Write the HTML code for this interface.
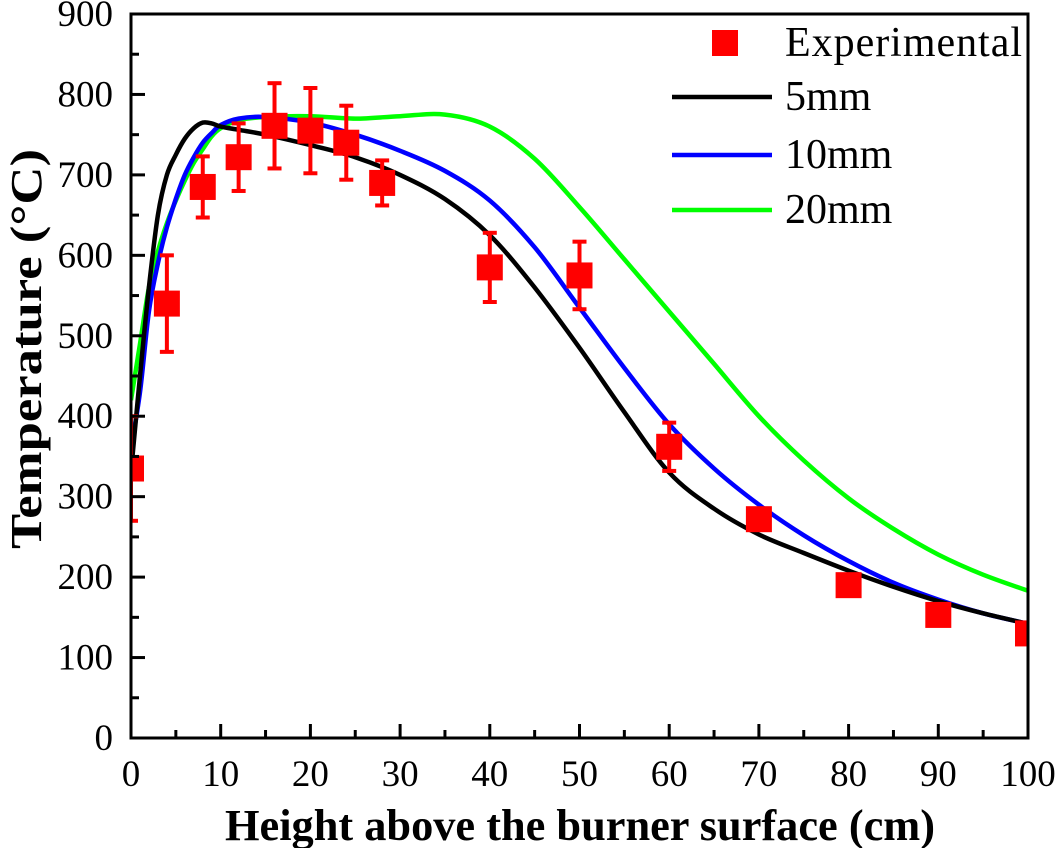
<!DOCTYPE html>
<html><head><meta charset="utf-8"><style>
html,body{margin:0;padding:0;background:#fff;}
svg{display:block;font-family:"Liberation Serif",serif;}
</style></head><body>
<svg id="chart" width="1055" height="848" viewBox="0 0 1055 848">
<defs><clipPath id="pc"><rect x="131" y="14" width="897" height="724"/></clipPath></defs>
<g id="series" clip-path="url(#pc)"></g>
<g id="axes"></g>
<g id="legend"></g>
</svg>
<script>
const xTicks=[0,10,20,30,40,50,60,70,80,90,100];
const yTicks=[0,100,200,300,400,500,600,700,800,900];
const expX=[0,4,8,12,16,20,24,28,40,50,60,70,80,90,100];
const expY=[335,540,685,722,761,755,740,690,585,575,362,272,190,153,130];
const expErr=[65,60,38,42,53,53,46,28,43,42,30,10,0,0,0];
const curveX=[0,1,2,3,4,5,6,7,8,9,10,12,15,20,25,30,35,40,45,50,55,60,65,70,75,80,85,90,95,100];
const y5mm=[330,450,560,650,700,725,745,758,765,764,760,756,750,737,722,700,670,625,560,485,405,330,285,253,230,208,188,170,155,142];
const y10mm=[360,430,530,590,635,670,700,722,740,752,762,770,772,765,750,730,705,668,610,535,460,390,335,290,252,220,193,172,155,142];
const y20mm=[420,490,560,605,640,668,693,715,732,748,758,768,772,773,770,773,775,760,720,660,595,530,465,400,345,298,260,228,203,183];
const NS="http://www.w3.org/2000/svg";
const X0=131,X1=1028,Y0=738,Y1=14;
const sx=v=>X0+(v-0)/(100)*(X1-X0);
const sy=v=>Y0-(v/900)*(Y0-Y1);
function mk(tag,attrs,parent){const e=document.createElementNS(NS,tag);for(const k in attrs)e.setAttribute(k,attrs[k]);parent.appendChild(e);return e;}
const ser=document.getElementById('series'),ax=document.getElementById('axes'),lg=document.getElementById('legend');
function curve(ys,color,name){
  const P=curveX.map((x,i)=>[sx(x),sy(ys[i])]);
  let d='M'+P[0][0].toFixed(1)+' '+P[0][1].toFixed(1);
  for(let i=0;i<P.length-1;i++){
    const p0=P[Math.max(0,i-1)],p1=P[i],p2=P[i+1],p3=P[Math.min(P.length-1,i+2)];
    const c1=[p1[0]+(p2[0]-p0[0])/6,p1[1]+(p2[1]-p0[1])/6];
    const c2=[p2[0]-(p3[0]-p1[0])/6,p2[1]-(p3[1]-p1[1])/6];
    d+=' C'+c1.map(v=>v.toFixed(1)).join(' ')+' '+c2.map(v=>v.toFixed(1)).join(' ')+' '+p2.map(v=>v.toFixed(1)).join(' ');
  }
  const p=mk('path',{d:d,fill:'none',stroke:color,'stroke-width':4.5,'stroke-linejoin':'round'},ser);
  
  
}
curve(y20mm,'#00ff00','line-20mm');
curve(y10mm,'#0000ff','line-10mm');
curve(y5mm,'#000000','line-5mm');
expX.forEach((x,i)=>{
  const cx=sx(x),cy=sy(expY[i]);
  const g=mk('g',{},ser);
  
  
  if(expErr[i]>0){
    const t=sy(expY[i]+expErr[i]),b=sy(expY[i]-expErr[i]);
    mk('line',{x1:cx,x2:cx,y1:t,y2:b,stroke:'#ff0000','stroke-width':4},g);
    mk('line',{x1:cx-7,x2:cx+7,y1:t,y2:t,stroke:'#ff0000','stroke-width':4},g);
    mk('line',{x1:cx-7,x2:cx+7,y1:b,y2:b,stroke:'#ff0000','stroke-width':4},g);
  }
  mk('rect',{x:cx-13,y:cy-13,width:26,height:26,fill:'#ff0000'},g);
});
const fr=mk('rect',{x:X0,y:Y1,width:X1-X0,height:Y0-Y1,fill:'none',stroke:'#000','stroke-width':3},ax);


xTicks.forEach(v=>{
  const x=sx(v);
  mk('line',{x1:x,x2:x,y1:Y0,y2:Y0-14,stroke:'#000','stroke-width':3},ax);
  if(v<100){const m=sx(v+5);mk('line',{x1:m,x2:m,y1:Y0,y2:Y0-8,stroke:'#000','stroke-width':3},ax);}
  const t=mk('text',{x:x,y:786,'text-anchor':'middle','font-size':37},ax);t.textContent=v;
  
  
});
yTicks.forEach(v=>{
  const y=sy(v);
  mk('line',{x1:X0,x2:X0+14,y1:y,y2:y,stroke:'#000','stroke-width':3},ax);
  if(v<900){const m=sy(v+50);mk('line',{x1:X0,x2:X0+8,y1:m,y2:m,stroke:'#000','stroke-width':3},ax);}
  const t=mk('text',{x:113,y:y+12,'text-anchor':'end','font-size':37},ax);t.textContent=v;
  
  
});
const xt=mk('text',{x:225,y:840,'font-size':44,'font-weight':'bold',textLength:710,lengthAdjust:'spacingAndGlyphs'},ax);
xt.textContent='Height above the burner surface (cm)';


const yt=mk('text',{x:0,y:0,'font-size':44,'font-weight':'bold',textLength:400,lengthAdjust:'spacingAndGlyphs',transform:'translate(41 549) rotate(-90)'},ax);
yt.textContent='Temperature (°C)';


const le=[['Experimental',null,43],['5mm','#000',97],['10mm','#0000ff',155],['20mm','#00ff00',210]];
le.forEach(([lab,col,y])=>{
  const g=mk('g',{},lg);
  
  
  if(col)mk('line',{x1:672,x2:772,y1:y,y2:y,stroke:col,'stroke-width':4.5},g);
  else mk('rect',{x:712,y:y-13,width:26,height:26,fill:'#ff0000'},g);
  const t=mk('text',{x:785,y:y+13,'font-size':42},g);t.textContent=lab;
  if(!col)t.setAttribute('textLength',237);
});
</script>
</body></html>
